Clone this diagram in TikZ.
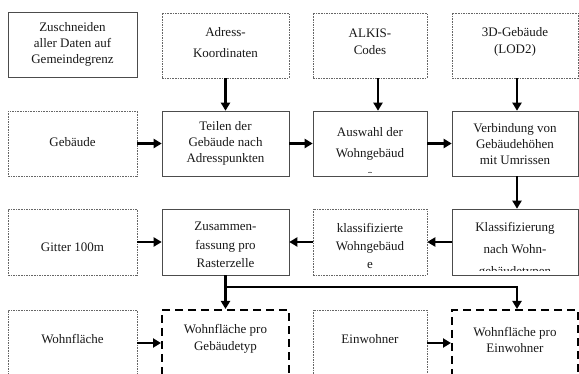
\documentclass[tikz,border=0pt]{standalone}
\usepackage{fontspec}
\setmainfont{Liberation Serif}
\usetikzlibrary{arrows.meta,calc}
\begin{document}
\begin{tikzpicture}[x=1pt,y=-1pt,
  sbox/.style={draw=black!70, line width=0.6pt, minimum height=65pt, inner sep=0pt},
  dbox/.style={draw=black!60, line width=0.5pt, dash pattern=on 1.6pt off 1pt, minimum height=65pt, inner sep=0pt},
  tbox/.style={draw=black, line width=2pt, dash pattern=on 8pt off 5pt, minimum height=66pt, inner sep=0pt},
  txt/.style={align=center, inner sep=0pt, text=black!90, font=\fontsize{13}{16}\selectfont},
  arr/.style={draw=black, line width=2.2pt, -{Triangle[length=8pt,width=9pt]}}
]
\useasboundingbox (0,0) rectangle (579,374);
\clip (0,0) rectangle (579,374);
\fill[white] (0,0) rectangle (579,374);

% row 1
\node[sbox, minimum width=129pt] (zusch) at (72.5,44.5) {};
\node[dbox, minimum width=127pt] (adr) at (225.5,45.5) {};
\node[dbox, minimum width=114pt] (alk) at (370,45.5) {};
\node[dbox, minimum width=126pt] (d3) at (515,45.5) {};
% row 2
\node[dbox, minimum width=129pt] (geb) at (72.5,144) {};
\node[sbox, minimum width=127pt] (tei) at (225.5,143.5) {};
\node[sbox, minimum width=114pt] (ausw) at (370,143.5) {};
\node[sbox, minimum width=126pt] (verb) at (515,143.5) {};
% row 3
\node[dbox, minimum width=129pt, minimum height=66pt] (git) at (72.5,242) {};
\node[sbox, minimum width=127pt, minimum height=66pt] (zus) at (225.5,242) {};
\node[dbox, minimum width=114pt, minimum height=66pt] (kw) at (370,242) {};
\node[sbox, minimum width=126pt, minimum height=66pt] (kl) at (515,242) {};
% row 4
\node[dbox, minimum width=129pt, minimum height=66pt] (wf) at (72.5,343) {};
\node[tbox, minimum width=127pt] (wpg) at (225.5,343) {};
\node[dbox, minimum width=114pt, minimum height=66pt] (ew) at (370,343) {};
\node[tbox, minimum width=126pt] (wpe) at (515,343) {};

% texts
\node[txt] (tzusch) at (72.5,44) {Zuschneiden\\aller Daten auf\\Gemeindegrenz};
\node[txt, font=\fontsize{13}{21}\selectfont] (tadr) at (225.5,42.5) {Adress-\\Koordinaten};
\node[txt, font=\fontsize{13}{17}\selectfont] (talk) at (370,41.7) {ALKIS-\\Codes};
\node[txt, font=\fontsize{13}{17}\selectfont] (td3) at (515,41.7) {3D-Gebäude\\(LOD2)};
\node[txt] (tgeb) at (72.5,142) {Gebäude};
\node[txt] (ttei) at (225.5,143) {Teilen der\\Gebäude nach\\Adresspunkten};
\begin{scope}
\clip (313,111) rectangle (427,173);
\node[txt, font=\fontsize{13}{21}\selectfont] (tausw) at (370,153) {Auswahl der\\Wohngebäud\\e};
\end{scope}
\node[txt] (tverb) at (515,144) {Verbindung von\\Gebäudehöhen\\mit Umrissen};
\node[txt] (tgit) at (72.5,247) {Gitter 100m};
\node[txt, font=\fontsize{13}{18.5}\selectfont] (tzus) at (225.5,245) {Zusammen-\\fassung pro\\Rasterzelle};
\node[txt, font=\fontsize{13}{18}\selectfont] (tkw) at (370,245.5) {klassifizierte\\Wohngebäud\\e};
\begin{scope}
\clip (452,209) rectangle (578,271);
\node[txt, font=\fontsize{13}{22}\selectfont] (tkl) at (515,250) {Klassifizierung\\nach Wohn-\\gebäudetypen};
\end{scope}
\node[txt] (twf) at (72.5,339) {Wohnfläche};
\node[txt, font=\fontsize{13}{17}\selectfont] (twpg) at (225.5,338.5) {Wohnfläche pro\\Gebäudetyp};
\node[txt] (tew) at (370,339) {Einwohner};
\node[txt, font=\fontsize{13}{16}\selectfont] (twpe) at (515,340) {Wohnfläche pro\\Einwohner};

% connectors
\draw[arr] (adr) -- (tei);
\draw[arr] ([xshift=8pt]alk.south) -- ([xshift=8pt]ausw.north);
\draw[arr] ([xshift=2pt]d3.south) -- ([xshift=2pt]verb.north);
\draw[arr] (geb.east |- tei.west) -- (tei.west);
\draw[arr] (tei) -- (ausw);
\draw[arr] (ausw) -- (verb);
\draw[arr] ([xshift=2pt]verb.south) -- ([xshift=2pt]kl.north);
\draw[arr] (kl) -- (kw);
\draw[arr] (kw) -- (zus);
\draw[arr] (git) -- (zus);
\draw[arr] (zus) -- (wpg);
\coordinate (br) at (225.5,287);
\draw[arr] (br) -| ([xshift=2pt]wpe.north);
\draw[arr] (wf) -- (wpg);
\draw[arr] (ew) -- (wpe);
\end{tikzpicture}
\end{document}
